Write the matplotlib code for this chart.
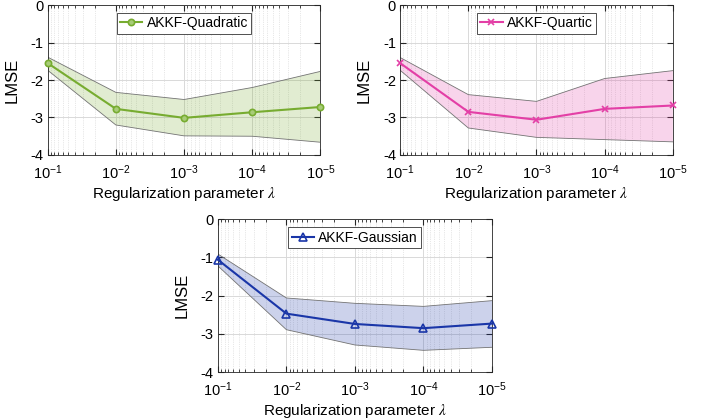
import numpy as np
import matplotlib
matplotlib.use("Agg")
import matplotlib.pyplot as plt
from matplotlib.ticker import LogLocator, NullFormatter

plt.rcParams['font.family'] = ['Liberation Sans', 'DejaVu Sans']
plt.rcParams['mathtext.fontset'] = 'stix'

lam = [1e-1, 1e-2, 1e-3, 1e-4, 1e-5]

quad_mean = [-1.55, -2.77, -3.01, -2.86, -2.72]
quad_upper = [-1.39, -2.33, -2.52, -2.20, -1.77]
quad_lower = [-1.74, -3.20, -3.49, -3.50, -3.66]

quart_mean = [-1.55, -2.85, -3.06, -2.77, -2.68]
quart_upper = [-1.40, -2.39, -2.57, -1.96, -1.75]
quart_lower = [-1.74, -3.28, -3.53, -3.59, -3.65]

gauss_mean = [-1.06, -2.47, -2.74, -2.85, -2.73]
gauss_upper = [-0.91, -2.06, -2.20, -2.28, -2.13]
gauss_lower = [-1.22, -2.89, -3.29, -3.43, -3.35]

fig = plt.figure(figsize=(7.12, 4.2), dpi=100)


def panel(rect, mean, lo, hi, color, marker, label, msize, mfc):
    ax = fig.add_axes(rect)
    ax.fill_between(lam, lo, hi, facecolor=color, alpha=0.22,
                    edgecolor='none', zorder=1)
    ax.plot(lam, hi, color='0.45', lw=0.6, zorder=2)
    ax.plot(lam, lo, color='0.45', lw=0.6, zorder=2)
    ax.plot(lam, mean, color=color, lw=1.5, marker=marker, ms=msize,
            mfc=mfc, mec=color, mew=1.2, label=label, zorder=3, clip_on=False)
    ax.set_xscale('log')
    ax.set_xlim(1e-1, 1e-5)
    ax.set_ylim(-4, 0)
    ax.set_yticks([-4, -3, -2, -1, 0])
    ax.set_yticklabels(['-4', '-3', '-2', '-1', '0'])
    ax.xaxis.set_major_locator(LogLocator(base=10, numticks=10))
    ax.xaxis.set_minor_locator(LogLocator(base=10, subs=np.arange(2, 10), numticks=20))
    ax.xaxis.set_minor_formatter(NullFormatter())
    ax.grid(which='major', color='0.85', lw=0.7)
    ax.grid(which='minor', axis='x', color='0.82', lw=0.5, ls=':')
    ax.set_axisbelow(True)
    ax.tick_params(which='both', direction='in', top=True, right=True,
                   labelsize=10.5, color='0.15')
    ax.tick_params(axis='x', which='major', pad=6)
    ax.tick_params(axis='y', which='major', pad=3)
    ax.tick_params(which='major', length=4)
    ax.tick_params(which='minor', length=2)
    for s in ax.spines.values():
        s.set_color('0.15')
        s.set_linewidth(0.6)
    ax.set_xlabel(r'Regularization parameter $\lambda$', fontsize=11, labelpad=2)
    ax.set_ylabel('LMSE', fontsize=12, labelpad=8)
    leg = ax.legend(loc='upper center', fontsize=10, fancybox=False,
                    framealpha=1, edgecolor='0.2', borderpad=0.25,
                    handlelength=1.6, handletextpad=0.3, borderaxespad=0.4,
                    bbox_to_anchor=(0.5, 0.985))
    leg.get_frame().set_linewidth(0.6)
    return ax


panel([0.067, 0.631, 0.383, 0.357], quad_mean, quad_lower, quad_upper,
      '#77AC30', 'o', 'AKKF-Quadratic', 4.5, '#A8CC78')
panel([0.562, 0.631, 0.383, 0.357], quart_mean, quart_lower, quart_upper,
      '#E33FA6', 'x', 'AKKF-Quartic', 4.5, '#E33FA6')
panel([0.306, 0.114, 0.385, 0.364], gauss_mean, gauss_lower, gauss_upper,
      '#1A36A8', '^', 'AKKF-Gaussian', 6, 'none')

fig.savefig('out.png', dpi=100)
